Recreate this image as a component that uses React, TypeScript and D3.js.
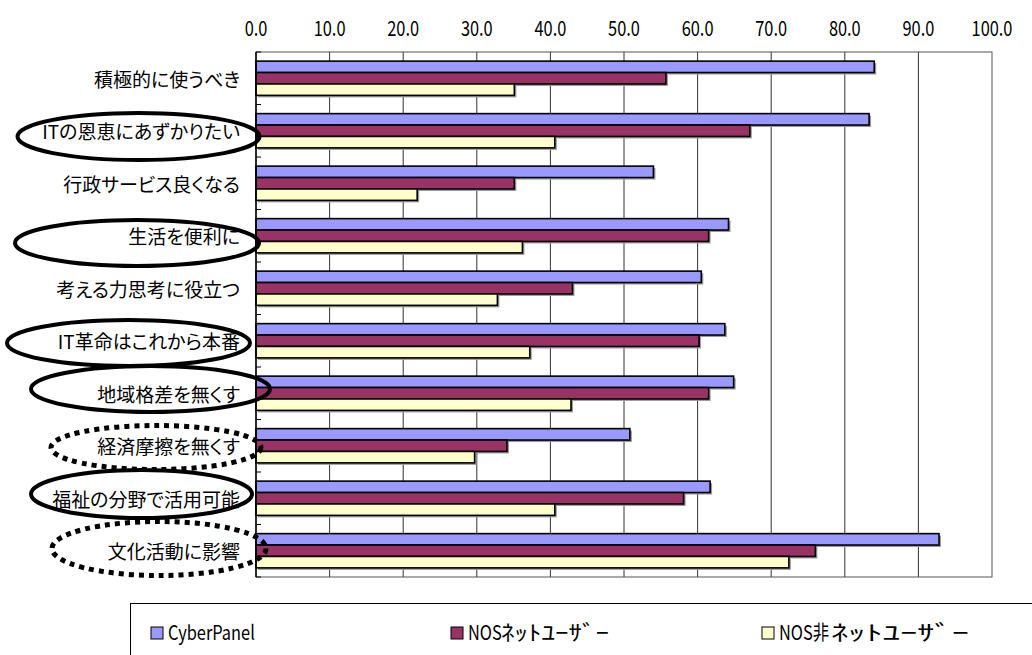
import React from "react";
import * as d3 from "d3";

// Survey items (top to bottom)
const categories = [
  "積極的に使うべき",
  "ITの恩恵にあずかりたい",
  "行政サービス良くなる",
  "生活を便利に",
  "考える力思考に役立つ",
  "IT革命はこれから本番",
  "地域格差を無くす",
  "経済摩擦を無くす",
  "福祉の分野で活用可能",
  "文化活動に影響",
];

// Percentages per respondent group
const cyberPanel = [84.0, 83.3, 54.0, 64.2, 60.5, 63.7, 64.9, 50.8, 61.7, 92.8];
const nosNetUsers = [55.7, 67.1, 35.1, 61.5, 43.0, 60.2, 61.5, 34.1, 58.1, 76.0];
const nosNonNetUsers = [35.1, 40.6, 21.9, 36.2, 32.8, 37.2, 42.8, 29.7, 40.6, 72.4];

const seriesNames = ["CyberPanel", "NOSﾈｯﾄﾕｰｻﾞｰ", "NOS非ﾈｯﾄﾕｰｻﾞｰ"];
const seriesColors = ["#9999FF", "#993366", "#FFFFCC"];
const seriesValues = [cyberPanel, nosNetUsers, nosNonNetUsers];

const tickValues = [0, 10, 20, 30, 40, 50, 60, 70, 80, 90, 100];

// Hand-drawn highlight rings around some labels
const highlights = [
  { cx: 138.5, cy: 136.5, rx: 121, ry: 23.5, dotted: false },
  { cx: 137, cy: 243, rx: 122, ry: 23, dotted: false },
  { cx: 128.5, cy: 343, rx: 121.5, ry: 23, dotted: false },
  { cx: 150.5, cy: 389, rx: 119.5, ry: 23, dotted: false },
  { cx: 156, cy: 447.5, rx: 105, ry: 22, dotted: true },
  { cx: 141.5, cy: 494, rx: 110.5, ry: 24, dotted: false },
  { cx: 159, cy: 548.5, rx: 107, ry: 27, dotted: true },
];

const W = 1032;
const H = 655;
const plot = { left: 256, right: 992, top: 52, bottom: 577 };
const FONT = "'Noto Sans CJK JP', 'Noto Sans', sans-serif";

// Split a legend name into its leading part and a trailing half-width katakana run
function splitKana(name: string): [string, string] {
  const m = name.match(/^(.*?)([\uFF61-\uFF9F]+)$/);
  return m ? [m[1], m[2]] : [name, ""];
}

export default function App() {
  const x = d3.scaleLinear().domain([0, 100]).range([plot.left, plot.right]);
  const y = d3
    .scaleBand<string>()
    .domain(categories)
    .range([plot.top, plot.bottom])
    .padding(0);
  const sub = d3
    .scaleBand<number>()
    .domain([0, 1, 2])
    .range([0, y.bandwidth()])
    .paddingInner(0)
    .paddingOuter(0.8);

  const boundaries = d3.range(categories.length + 1).map(
    (i) => plot.top + i * y.step()
  );

  const legendItems = [
    { x: 151, head: 0, kana: 0, name: seriesNames[0], color: seriesColors[0] },
    { x: 451, head: 33, kana: 108, name: seriesNames[1], color: seriesColors[1] },
    { x: 762, head: 52, kana: 138, name: seriesNames[2], color: seriesColors[2] },
  ];

  return (
    <svg
      width={W}
      height={H}
      style={{ position: "absolute", left: 0, top: 0, background: "#fff" }}
      fontFamily={FONT}
    >
      <rect x={0} y={0} width={W} height={H} fill="#fff" />

      {/* value axis labels along the top */}
      {tickValues.map((t) => (
        <text
          key={"t" + t}
          transform={`translate(${x(t)},36) scale(0.78,1)`}
          textAnchor="middle"
          fontSize={21}
          fill="#000"
        >
          {t.toFixed(1)}
        </text>
      ))}

      {/* gridlines */}
      {tickValues.slice(1, -1).map((t) => (
        <line
          key={"g" + t}
          x1={x(t)}
          x2={x(t)}
          y1={plot.top}
          y2={plot.bottom}
          stroke="#333"
          strokeWidth={1}
        />
      ))}

      {/* plot frame */}
      <rect
        x={plot.left}
        y={plot.top}
        width={plot.right - plot.left}
        height={plot.bottom - plot.top}
        fill="none"
        stroke="#555"
        strokeWidth={1}
      />

      {/* bars */}
      {categories.map((c, ci) => (
        <g key={c} transform={`translate(0,${y(c)})`}>
          {seriesValues.map((vals, si) => {
            const by = sub(si)!;
            const bw = x(vals[ci]) - x(0);
            const bh = sub.bandwidth();
            return (
              <g key={si}>
                <rect
                  x={x(0) + 2}
                  y={by + 2}
                  width={bw}
                  height={bh}
                  fill="#9a9a9a"
                />
                <rect
                  x={x(0)}
                  y={by}
                  width={bw}
                  height={bh}
                  fill={seriesColors[si]}
                  stroke="#000"
                  strokeWidth={1.6}
                />
              </g>
            );
          })}
        </g>
      ))}

      {/* category axis */}
      <line
        x1={plot.left}
        x2={plot.left}
        y1={plot.top}
        y2={plot.bottom}
        stroke="#000"
        strokeWidth={1.5}
      />
      {boundaries.map((b, i) => (
        <line
          key={"tk" + i}
          x1={plot.left}
          x2={plot.left + 5}
          y1={b}
          y2={b}
          stroke="#000"
          strokeWidth={1}
        />
      ))}

      {/* category labels */}
      {categories.map((c) => (
        <text
          key={"l" + c}
          x={240}
          y={y(c)! + y.bandwidth() / 2}
          textAnchor="end"
          dominantBaseline="central"
          fontSize={19}
          style={{ fontFeatureSettings: "'palt'" }}
          fill="#000"
        >
          {c}
        </text>
      ))}

      {/* highlight rings */}
      {highlights.map((h, i) => (
        <ellipse
          key={"e" + i}
          cx={h.cx}
          cy={h.cy}
          rx={h.rx}
          ry={h.ry}
          fill="none"
          stroke="#000"
          strokeWidth={h.dotted ? 5 : 4}
          strokeDasharray={h.dotted ? "5 5" : undefined}
        />
      ))}

      {/* legend */}
      <rect
        x={130.5}
        y={603.5}
        width={W + 10}
        height={100}
        fill="#fff"
        stroke="#000"
        strokeWidth={1}
      />
      {legendItems.map((it) => {
        const [head, kana] = splitKana(it.name);
        return (
          <g key={it.name}>
            <rect
              x={it.x}
              y={627}
              width={12}
              height={12}
              fill={it.color}
              stroke="#000"
              strokeWidth={1}
            />
            <text
              transform={`translate(${it.x + 17},640) scale(0.82,1)`}
              fontSize={20}
              fill="#000"
            >
              {head}
            </text>
            {kana && (
              <text
                x={it.x + 17 + it.head}
                y={640}
                fontSize={21}
                textLength={it.kana}
                lengthAdjust="spacingAndGlyphs"
                fill="#000"
              >
                {kana}
              </text>
            )}
          </g>
        );
      })}
    </svg>
  );
}
